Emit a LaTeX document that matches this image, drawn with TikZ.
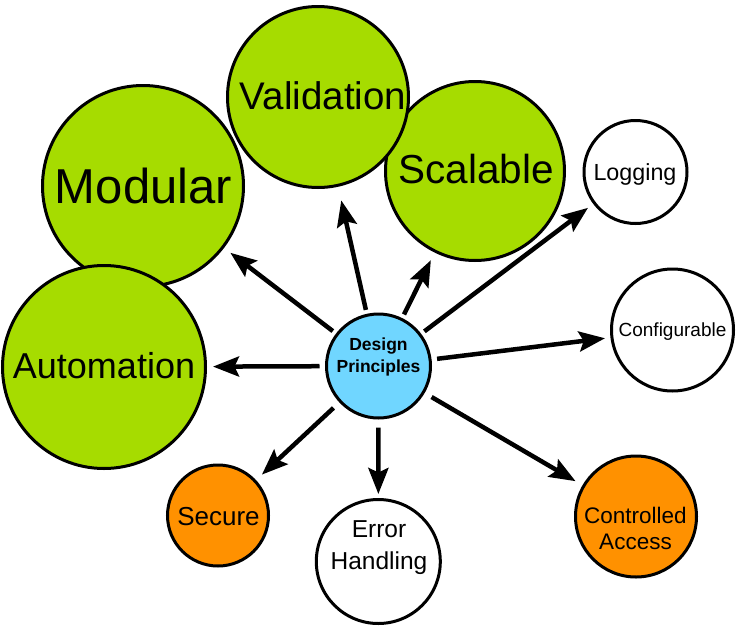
\documentclass[tikz,border=0pt]{standalone}
\usepackage{fontspec}
\setmainfont{Liberation Sans}
\usetikzlibrary{arrows.meta}
\definecolor{lgreen}{RGB}{166,220,0}
\definecolor{lblue}{RGB}{112,214,255}
\definecolor{lorange}{RGB}{255,145,0}
\begin{document}
\begin{tikzpicture}[x=1pt,y=-1pt,
  bub/.style={circle, draw=black, line width=3pt, inner sep=0pt, minimum size=#1},
  lbl/.style={anchor=base, inner sep=0pt, text=black},
  mlbl/.style={anchor=north, inner sep=0pt, text=black, align=center},
  conn/.style={line width=4.5pt, -{Stealth[length=26pt,width=20pt,inset=4.5pt]}, shorten <=5pt}
]
\useasboundingbox (0,0) rectangle (737,627);
% circles
\node[bub=201pt, fill=lgreen] (modular) at (143,186) {};
\node[bub=179pt, fill=lgreen] (scalable) at (475,171) {};
\node[bub=181pt, fill=lgreen] (validation) at (318,97) {};
\node[bub=203pt, fill=lgreen] (automation) at (104,367) {};
\node[bub=104pt, fill=lblue] (center) at (378.5,366) {};
\node[bub=103pt, fill=white] (logging) at (635.5,172) {};
\node[bub=122pt, fill=white] (config) at (672.5,330) {};
\node[bub=121pt, fill=lorange] (controlled) at (636,516.5) {};
\node[bub=124pt, fill=white] (error) at (378.3,561.5) {};
\node[bub=101pt, fill=lorange] (secure) at (218,515.5) {};
% labels
\node[lbl, font=\fontsize{49}{58}\selectfont] (t-modular) at (143.5,203) {Modular};
\node[lbl, font=\fontsize{38.5}{46}\selectfont] (t-validation) at (323,109.5) {Validation};
\node[lbl, font=\fontsize{40.5}{48}\selectfont] (t-scalable) at (476,183) {Scalable};
\node[lbl, font=\fontsize{36}{43}\selectfont] (t-automation) at (104,378) {Automation};
\node[lbl, font=\fontsize{23.3}{28}\selectfont] (t-logging) at (635,180) {Logging};
\node[lbl, font=\fontsize{19}{23}\selectfont] (t-config) at (672.5,336) {Configurable};
\node[lbl, font=\fontsize{26}{31}\selectfont] (t-secure) at (218.5,525) {Secure};
\node[mlbl, font=\fontsize{24.5}{32}\selectfont] (t-error) at (379,520.5) {Error\\Handling};
\node[mlbl, font=\fontsize{22.5}{26.3}\selectfont] (t-controlled) at (635.5,506.6) {Controlled\\Access};
\node[mlbl, font=\fontsize{17.5}{22}\selectfont\bfseries] (t-center) at (378.5,338) {Design\\Principles};
% connectors
\draw[conn, shorten <=4pt, shorten >=8pt] (center) -- (modular);
\draw[conn, shorten <=4pt, shorten >=14pt] (center) -- (validation);
\draw[conn, shorten <=4pt, shorten >=8.5pt] (center) -- (scalable);
\draw[conn, shorten <=4pt, shorten >=6.5pt] (center) -- (logging);
\draw[conn, shorten <=5.5pt, shorten >=5.5pt] (center) -- (config);
\draw[conn, shorten <=8pt, shorten >=8pt] (center) -- (controlled);
\draw[conn, shorten <=8pt, shorten >=4pt] (center) -- (error);
\draw[conn, shorten <=8pt, shorten >=8pt] (center) -- (secure);
\draw[conn, shorten <=5.5pt, shorten >=6pt] (center) -- (automation);
\end{tikzpicture}
\end{document}
